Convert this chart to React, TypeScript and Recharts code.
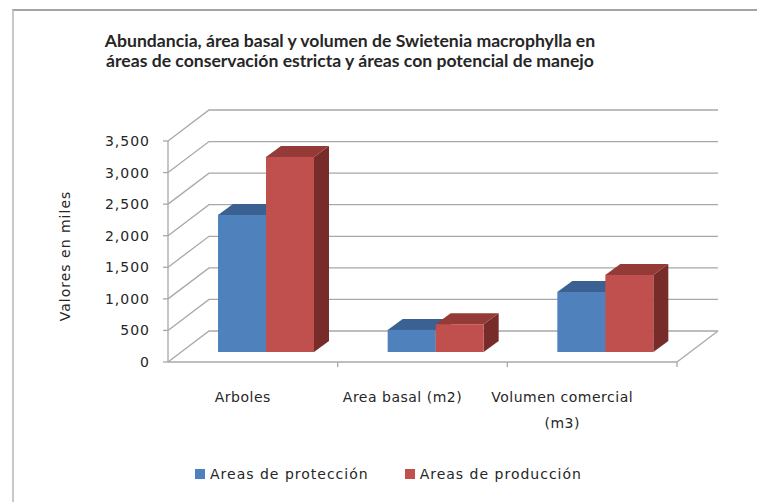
import { BarChart, Bar, XAxis, YAxis, CartesianGrid } from "recharts";

// values in thousands
const categories = ["Arboles", "Area basal (m2)", "Volumen comercial\n(m3)"];
const proteccion = [2170, 350, 950];
const produccion = [3090, 440, 1220];
const yTicks = [0, 500, 1000, 1500, 2000, 2500, 3000, 3500];
const seriesNames = ["Areas de protección", "Areas de producción"];

const W = 757;
const H = 502;
const PLOT = { left: 168, top: 141, right: 677, bottom: 362 };
// back wall offset and bar depth (fake 3d)
const WALL_DX = 41;
const WALL_DY = 31;
const BAR_OX = 13;
const BAR_OY = -10;
const DEPTH_DX = 15;
const DEPTH_DY = 11;

const BLUE = { front: "#4f81bd", top: "#3b6192", side: "#2f4f78" };
const RED = { front: "#c0504d", top: "#943a37", side: "#772c2a" };
const GRID = "#a8a8a8";
const TEXT = "#262626";
const FONT = "'DejaVu Sans', sans-serif";

const data = categories.map((c, i) => ({
  name: c,
  proteccion: proteccion[i],
  produccion: produccion[i],
}));

const makeBox = (c: { front: string; top: string; side: string }) => (props: any) => {
  const { x, y, width, height } = props;
  if (width == null || height == null) return <g />;
  const fx = x + BAR_OX;
  const fy = y + BAR_OY;
  const top = `${fx},${fy} ${fx + DEPTH_DX},${fy - DEPTH_DY} ${fx + width + DEPTH_DX},${fy - DEPTH_DY} ${fx + width},${fy}`;
  const side = `${fx + width},${fy} ${fx + width + DEPTH_DX},${fy - DEPTH_DY} ${fx + width + DEPTH_DX},${fy + height - DEPTH_DY} ${fx + width},${fy + height}`;
  return (
    <g>
      <polygon points={side} fill={c.side} />
      <polygon points={top} fill={c.top} />
      <rect x={fx} y={fy} width={width} height={height} fill={c.front} />
    </g>
  );
};

const gridLine = (props: any) => {
  const { x1, y1, x2, y, height } = props;
  const pts = `${x1},${y1} ${x1 + WALL_DX},${y1 - WALL_DY} ${x2 + WALL_DX},${y1 - WALL_DY}`;
  const isFloor = Math.abs(y1 - (y + height)) < 0.5;
  return (
    <g key={`g-${y1}`}>
      <polyline points={pts} fill="none" stroke={GRID} strokeWidth={1.3} />
      {isFloor && (
        <line x1={x2} y1={y1} x2={x2 + WALL_DX} y2={y1 - WALL_DY} stroke={GRID} strokeWidth={1.3} />
      )}
    </g>
  );
};

function CategoryTick(props: any) {
  const { x, payload, index } = props;
  const lines = String(payload.value).split("\n");
  const catW = (PLOT.right - PLOT.left) / categories.length;
  const cx = x - 10 - 10 * index;
  return (
    <g>
      <line x1={x + catW / 2} y1={PLOT.bottom} x2={x + catW / 2} y2={PLOT.bottom + 5} stroke={GRID} strokeWidth={1.3} />
      <text x={cx} y={PLOT.bottom + 40} textAnchor="middle" fill={TEXT} fontSize={14} fontFamily={FONT} letterSpacing={0.5}>
        {lines.map((l, i) => (
          <tspan key={i} x={cx} dy={i === 0 ? 0 : 26}>
            {l}
          </tspan>
        ))}
      </text>
    </g>
  );
}

export default function App() {
  return (
    <div style={{ position: "absolute", left: 0, top: 0, width: W, height: H, overflow: "hidden", background: "#fff", fontFamily: FONT }}>
      <div style={{ position: "absolute", left: 12, top: 9, width: W, height: H, borderTop: "2px solid #a4a4a4", borderLeft: "2px solid #c8c8c8" }} />
      <div
        style={{
          position: "absolute", left: 0, top: 31, width: 700, textAlign: "center",
          fontFamily: "Lato, sans-serif", fontWeight: 700, fontSize: 17.6, lineHeight: "20px", color: TEXT,
        }}
      >
        Abundancia, área basal y volumen de Swietenia macrophylla en
        <br />
        áreas de conservación estricta y áreas con potencial de manejo
      </div>
      <div
        style={{
          position: "absolute", left: 65, top: 256, transform: "translate(-50%, -50%) rotate(-90deg)",
          whiteSpace: "nowrap", fontSize: 14, letterSpacing: 1, color: TEXT,
        }}
      >
        Valores en miles
      </div>
      <div style={{ position: "absolute", left: 0, top: 0 }}>
        <BarChart
          width={W}
          height={H}
          data={data}
          margin={{ top: PLOT.top, right: W - PLOT.right, bottom: H - PLOT.bottom - 30, left: PLOT.left - 60 }}
          barGap={0}
          barSize={48}
        >
          <CartesianGrid vertical={false} horizontal={gridLine} />
          <YAxis
            width={60}
            domain={[0, 3500]}
            ticks={yTicks}
            interval={0}
            tickFormatter={(v: number) => v.toLocaleString("en-US")}
            axisLine={{ stroke: GRID, strokeWidth: 1.3 }}
            tickLine={{ stroke: GRID, strokeWidth: 1.3 }}
            tickSize={5}
            tickMargin={13}
            tick={{ fill: TEXT, fontSize: 14, fontFamily: FONT, letterSpacing: 1 }}
          />
          <XAxis
            dataKey="name"
            height={30}
            interval={0}
            axisLine={{ stroke: GRID, strokeWidth: 1.3 }}
            tickLine={false}
            tick={<CategoryTick />}
          />
          <Bar dataKey="proteccion" name={seriesNames[0]} fill={BLUE.front} shape={makeBox(BLUE)} isAnimationActive={false} />
          <Bar dataKey="produccion" name={seriesNames[1]} fill={RED.front} shape={makeBox(RED)} isAnimationActive={false} />
        </BarChart>
      </div>
      <div style={{ position: "absolute", left: 195, top: 466, display: "flex", alignItems: "center", fontSize: 14, letterSpacing: 1, color: TEXT }}>
        {[BLUE.front, RED.front].map((c, i) => (
          <div key={i} style={{ display: "flex", alignItems: "center", marginRight: i === 0 ? 36 : 0 }}>
            <span style={{ display: "inline-block", width: 10, height: 10, background: c, marginRight: 5 }} />
            <span>{seriesNames[i]}</span>
          </div>
        ))}
      </div>
    </div>
  );
}
